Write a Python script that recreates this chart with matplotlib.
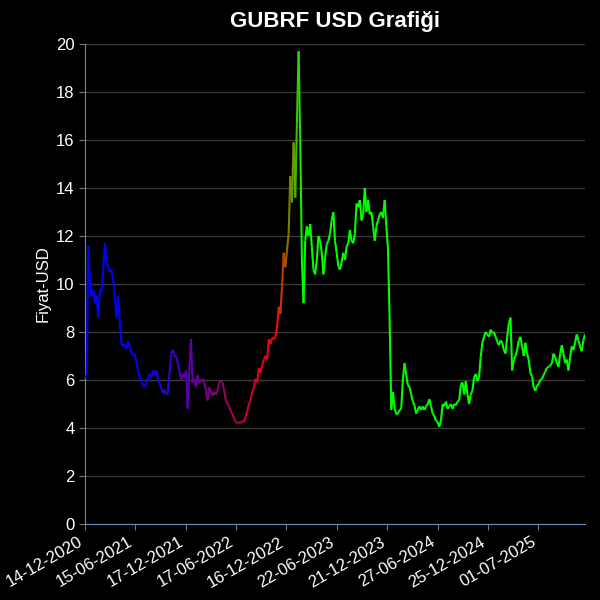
from matplotlib import pyplot as plt
from matplotlib.collections import LineCollection
from matplotlib.colors import LinearSegmentedColormap
import numpy as np

plt.rcParams['font.family'] = ['Liberation Sans', 'DejaVu Sans']

# price readings, roughly every 4 trading days from 14-12-2020
part_2021 = [6.1, 6.2, 11.6, 10.0, 9.5, 9.75, 9.2, 9.5, 8.6, 9.75, 9.7, 10.6,
             11.7, 10.9, 10.7, 10.5, 10.6, 10.2, 9.5, 8.6, 9.5, 8.4,
             7.5, 7.4, 7.5, 7.3, 7.6, 7.4, 7.15, 7.0, 7.1, 6.75,
             6.4, 6.1, 6.0, 5.8, 5.7, 5.85, 6.1, 6.25, 6.1, 6.4,
             6.2, 6.4, 6.1, 5.85, 5.7, 5.45, 5.6, 5.4, 5.45, 6.25,
             7.1, 7.25, 7.0, 7.0, 6.7, 6.4, 6.0]
part_2022 = [6.25, 6.1, 6.4, 4.8, 6.4, 7.7, 5.9, 6.05, 5.7, 6.2,
             5.9, 5.95, 6.05, 5.9, 5.6, 5.15, 5.7, 5.55, 5.35, 5.5,
             5.4, 5.55, 5.9, 5.95, 5.9, 5.6, 5.15, 5.0, 4.9, 4.7,
             4.6, 4.4, 4.25, 4.2, 4.25, 4.2, 4.3, 4.25, 4.45, 4.7,
             5.0, 5.15, 5.5, 5.7, 6.05, 5.9, 6.5, 6.3, 6.6, 6.85,
             7.0, 6.85, 7.7, 7.5, 7.75, 7.7, 7.8, 8.2, 9.05, 8.75,
             9.9]
part_2023 = [11.3, 10.7, 11.4, 12.1, 14.5, 13.4, 15.9, 13.6, 16.7, 19.7,
             16.0, 11.0, 9.2, 11.8, 12.4, 12.0, 12.5, 11.55, 10.6, 10.4,
             11.0, 12.0, 11.8, 11.3, 10.4, 11.1, 11.65, 11.8, 12.1, 12.65,
             13.0, 11.8, 11.3, 10.75, 10.6, 10.9, 11.3, 11.0, 11.55, 11.7,
             12.25, 11.8, 11.7, 12.1, 13.35, 13.2, 13.5, 12.65, 12.9, 14.0,
             13.0, 13.5, 12.9, 13.0, 12.4, 11.8, 12.4, 12.65, 12.9, 13.0,
             12.75, 13.5, 12.4]
part_2024 = [11.5, 8.5, 4.75, 5.5, 4.8, 4.6, 4.6, 4.75, 4.8, 6.0,
             6.7, 6.2, 5.8, 5.7, 5.4, 5.1, 4.95, 4.6, 4.75, 4.9,
             4.75, 4.9, 4.75, 4.9, 5.0, 5.2, 4.9, 4.6, 4.5, 4.3,
             4.25, 4.05, 4.3, 5.0, 4.9, 5.1, 4.8, 4.9, 5.0, 4.8,
             5.0, 4.95, 5.1, 5.15, 5.8, 5.9, 5.4, 5.95, 5.4, 5.0,
             5.4, 5.55, 6.1, 6.25, 5.95, 6.1, 6.95, 7.55, 7.8, 8.0,
             7.9]
part_2025 = [7.8, 8.1, 7.95, 8.0, 7.8, 7.6, 7.45, 7.65, 7.55, 7.25,
             7.1, 7.8, 8.35, 8.6, 6.4, 6.85, 7.0, 7.25, 7.65, 7.8,
             7.4, 7.0, 7.55, 7.1, 6.85, 6.3, 6.15, 5.7, 5.55, 5.75,
             5.85, 6.0, 6.05, 6.2, 6.35, 6.5, 6.55, 6.6, 6.7, 7.1,
             6.95, 6.7, 6.55, 7.1, 7.45, 7.1, 6.7, 6.85, 6.4, 6.95,
             7.4, 7.25, 7.55, 7.9, 7.65, 7.4, 7.2, 7.65, 7.9]

tick_labels = ['14-12-2020', '15-06-2021', '17-12-2021', '17-06-2022', '16-12-2022',
               '22-06-2023', '21-12-2023', '27-06-2024', '25-12-2024', '01-07-2025']
trading_days = 1241
tick_every = 125

prices = np.array(part_2021 + part_2022 + part_2023 + part_2024 + part_2025)
x = np.linspace(0, trading_days, len(prices))

# colour drifts blue -> red -> green along time
cmap = LinearSegmentedColormap.from_list('trend', [(0.0, 'blue'), (0.11, 'blue'), (0.38, 'red'),
                                                   (0.435, 'lime'), (1.0, 'lime')])

fig = plt.figure(figsize=(6, 6), dpi=100, facecolor='black')
ax = fig.add_axes([85/600, 76/600, 500/600, 480/600])
ax.set_facecolor('black')

pts = np.column_stack([x, prices]).reshape(-1, 1, 2)
segs = np.concatenate([pts[:-1], pts[1:]], axis=1)
lc = LineCollection(segs, colors=cmap(x[:-1] / trading_days), linewidth=1.5, zorder=3)
ax.add_collection(lc)

ax.set_xlim(0, trading_days)
ax.set_ylim(0, 20)
ax.set_yticks(np.arange(0, 21, 2))
ax.set_xticks(np.arange(len(tick_labels)) * tick_every)
ax.set_xticklabels(tick_labels, rotation=30, ha='right')

ax.grid(axis='y', color='#3a3a3a', linewidth=1)
ax.set_axisbelow(True)
ax.tick_params(colors='white', labelsize=12, length=4)
ax.tick_params(axis='both', color='#777777')
ax.spines['left'].set_color('#5b8fc7')
ax.spines['bottom'].set_color('#5b8fc7')
ax.spines['right'].set_color('none')
ax.spines['top'].set_color('none')

ax.set_ylabel('Fiyat-USD', color='white', fontsize=12)
ax.set_title('GUBRF USD Grafiği', color='white', fontsize=16, fontweight='bold', pad=12)

plt.savefig('out.png', facecolor='black')
